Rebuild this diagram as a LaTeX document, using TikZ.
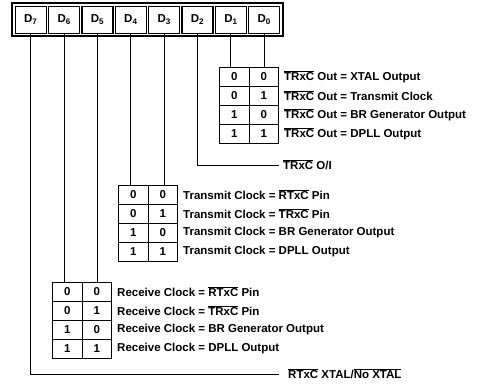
\documentclass[tikz,border=0pt]{standalone}
\usepackage{fontspec}
\setmainfont{Liberation Sans}
\usetikzlibrary{positioning}

\newcommand{\ovl}[1]{\leavevmode\vbox{\hrule height 0.8pt \kern 1.2pt \hbox{#1}}}
\newcommand{\regfont}{\bfseries\fontsize{11.5}{13}\selectfont}

\tikzset{
  bitbox/.style={draw, line width=1.2pt, minimum width=31pt, minimum height=27pt,
    inner sep=0pt, font=\regfont},
  cellbox/.style={draw, line width=1pt, minimum width=29.5pt, minimum height=19pt,
    inner sep=0pt, anchor=north west, font=\regfont},
  lbl/.style={anchor=west, inner sep=0pt, font=\regfont},
  wire/.style={line width=0.9pt},
}

\begin{document}
\begin{tikzpicture}[x=1pt, y=-1pt]
  \useasboundingbox (0,0) rectangle (483,389);

  % register
  \node[draw, line width=1.4pt, minimum width=271pt, minimum height=33pt,
    inner sep=0pt] (reg) at (147.4,19.6) {};
  \foreach \i in {7,...,0}
    \node[bitbox] (b\i) at ({30.8+33.35*(7-\i)},19.6) {D\textsubscript{\i}};

  % tables
  \foreach \t/\x/\y in {1/219/67, 2/118/185, 3/52/282}
    \foreach \r/\u/\v in {1/0/0, 2/0/1, 3/1/0, 4/1/1} {
      \node[cellbox] (t\t-\r-1) at (\x,{\y+19*(\r-1)}) {\u};
      \node[cellbox] (t\t-\r-2) at ({\x+29.5},{\y+19*(\r-1)}) {\v};
    }

  % texts
  \foreach \r/\s in {1/XTAL Output, 2/Transmit Clock, 3/BR Generator Output, 4/DPLL Output}
    \node[lbl, right=5pt of t1-\r-2] (x1-\r) {\ovl{TRxC} Out = \s};
  \foreach \r/\s in {1/\ovl{RTxC} Pin, 2/\ovl{TRxC} Pin, 3/BR Generator Output, 4/DPLL Output} {
    \node[lbl, right=5pt of t2-\r-2] (x2-\r) {Transmit Clock = \s};
    \node[lbl, right=5pt of t3-\r-2] (x3-\r) {Receive Clock = \s};
  }
  \node[lbl, inner xsep=4pt] (oi) at (279,165) {\ovl{TRxC} O/I};
  \node[lbl, inner xsep=9pt] (xtal) at (279,374) {\ovl{RTxC} XTAL/\ovl{No XTAL}};

  % wires
  \foreach \b/\t/\c in {1/1/1, 0/1/2, 4/2/1, 3/2/2, 6/3/1, 5/3/2}
    \draw[wire] (b\b.south) -- (b\b.south |- t\t-1-\c.north);
  \draw[wire] (b2.south) |- (oi.west);
  \draw[wire] (b7.south) |- (xtal.west);
\end{tikzpicture}
\end{document}
